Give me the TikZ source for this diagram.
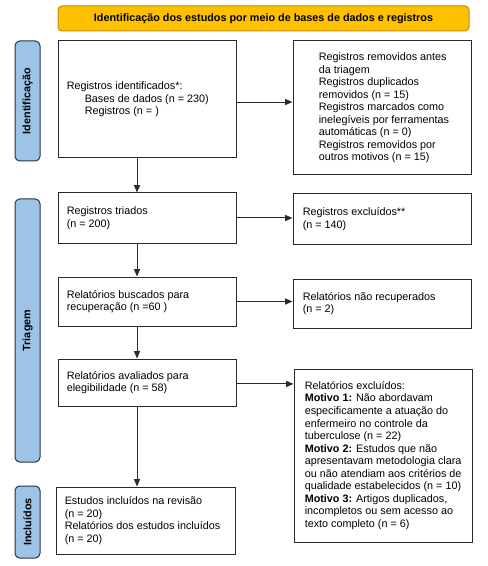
\documentclass[tikz,border=0pt]{standalone}
\usepackage{fontspec}
\setmainfont{Liberation Sans}
\usetikzlibrary{fit,arrows.meta}
\definecolor{hdrfill}{HTML}{FFC000}
\definecolor{hdrline}{HTML}{BF9000}
\definecolor{barfill}{HTML}{9DC3E6}
\definecolor{barline}{HTML}{22324A}
\definecolor{lin}{HTML}{2A2A2A}
\begin{document}
\begin{tikzpicture}[x=0.75pt,y=-0.75pt,
  font=\fontsize{8.1}{9.4}\selectfont,
  box/.style={draw=lin, line width=0.75pt, inner sep=0pt, rectangle},
  hdr/.style={draw=hdrline, fill=hdrfill, line width=0.75pt, inner sep=0pt, rectangle, rounded corners=3pt},
  hdrtxt/.style={inner sep=0pt, font=\fontsize{8.1}{9.4}\selectfont\bfseries},
  bar/.style={draw=barline, fill=barfill, line width=0.75pt, inner sep=0pt, rectangle, rounded corners=3.5pt},
  bartxt/.style={rotate=90, inner sep=0pt, font=\fontsize{8.1}{9.4}\selectfont\bfseries},
  txt/.style={align=left, inner sep=0pt, anchor=west, font=\fontsize{8.1}{9.4}\selectfont},
  arr/.style={draw=lin, line width=0.75pt, -{Triangle[length=5.5pt,width=4.5pt]}}]
\useasboundingbox (0,0) rectangle (487,566);

% header
\node[hdr, fit={(58,6) (469,31)}, label={[hdrtxt]center:Identificação dos estudos por meio de bases de dados e registros}] (H) {};

% side bars
\node[bar, fit={(15,41) (40,161)}, label={[bartxt]center:Identificação}] (S1) {};
\node[bar, fit={(15,199) (40,462)}, label={[bartxt]center:Triagem}] (S2) {};
\node[bar, fit={(15,486) (40,558)}, label={[bartxt]center:Incluídos}] (S3) {};

% left column
\node[box, fit={(58,41) (236,158)}, label={[txt, xshift=6.75pt]west:{Registros identificados*:\\\hspace*{13.5pt}Bases de dados (n = 230)\\\hspace*{13.5pt}Registros (n = )}}] (B1) {};
\node[box, fit={(58,193) (236,243)}, label={[txt, xshift=6.75pt]west:{Registros triados\\(n = 200)}}] (B2) {};
\node[box, fit={(58,277) (236,326)}, label={[txt, xshift=6.75pt]west:{Relatórios buscados para\\recuperação (n =60 )}}] (B3) {};
\node[box, fit={(58,359) (236,406)}, label={[txt, xshift=6.75pt]west:{Relatórios avaliados para\\elegibilidade (n = 58)}}] (B4) {};
\node[box, fit={(56,487) (235,554)}, label={[txt, xshift=6.75pt]west:{Estudos incluídos na revisão\\(n = 20)\\Relatórios dos estudos incluídos\\(n = 20)}}] (B5) {};

% right column
\node[box, fit={(293,41) (471,175)}, label={[txt, xshift=19.5pt]west:{Registros removidos antes\\da triagem\\Registros duplicados\\removidos (n = 15)\\Registros marcados como\\inelegíveis por ferramentas\\automáticas (n = 0)\\Registros removidos por\\outros motivos (n = 15)}}] (R1) {};
\node[box, fit={(293,194) (471,244)}, label={[txt, xshift=7.5pt]west:{Registros excluídos**\\(n = 140)}}] (R2) {};
\node[box, fit={(293,279) (471,328)}, label={[txt, xshift=7.5pt]west:{Relatórios não recuperados\\(n = 2)}}] (R3) {};
\node[box, fit={(294,369) (472,542)}, label={[txt, xshift=8.25pt]west:{Relatórios excluídos:\\\textbf{Motivo 1:} Não abordavam\\especificamente a atuação do\\enfermeiro no controle da\\tuberculose (n = 22)\\\textbf{Motivo 2:} Estudos que não\\apresentavam metodologia clara\\ou não atendiam aos critérios de\\qualidade estabelecidos (n = 10)\\\textbf{Motivo 3:} Artigos duplicados,\\incompletos ou sem acesso ao\\texto completo (n = 6)}}] (R4) {};

% horizontal arrows
\draw[arr] ([yshift=-1.9pt]B1.east) -- ([yshift=-1.9pt]B1.east -| R1.west);
\draw[arr] (B2.east) -- (B2.east -| R2.west);
\draw[arr] (B3.east) -- (B3.east -| R3.west);
\draw[arr] ([yshift=-1.1pt]B4.east) -- ([yshift=-1.1pt]B4.east -| R4.west);

% vertical arrows
\draw[arr] ([xshift=-7.5pt]B1.south) -- ([xshift=-7.5pt]B1.south |- B2.north);
\draw[arr] ([xshift=-7.5pt]B2.south) -- ([xshift=-7.5pt]B2.south |- B3.north);
\draw[arr] ([xshift=-7.5pt]B3.south) -- ([xshift=-7.5pt]B3.south |- B4.north);
\draw[arr] ([xshift=-7.5pt]B4.south) -- ([xshift=-7.5pt]B4.south |- B5.north);
\end{tikzpicture}
\end{document}
